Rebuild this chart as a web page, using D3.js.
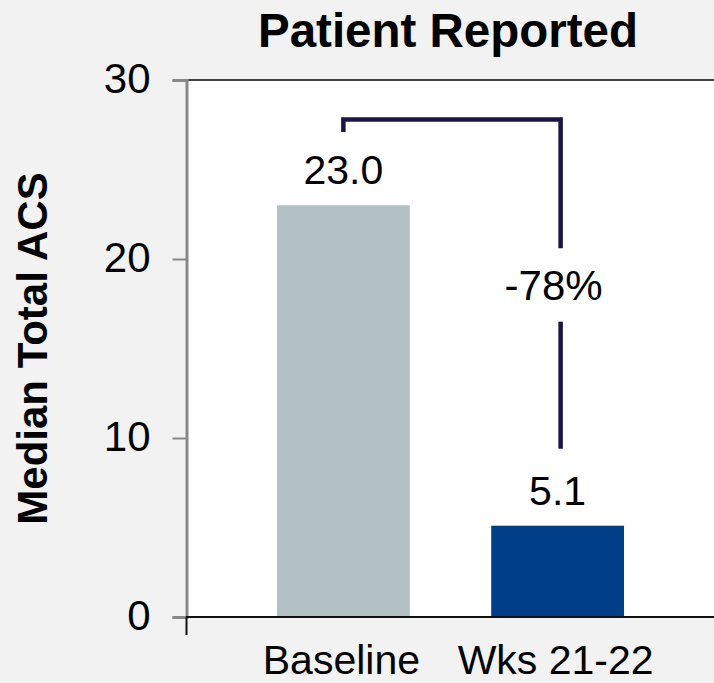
<!DOCTYPE html>
<html>
<head>
<meta charset="utf-8">
<script src="https://cdn.jsdelivr.net/npm/d3@7/dist/d3.min.js"></script>
<style>
  html, body { margin: 0; padding: 0; background: #f2f2f2; }
  svg { display: block; }
  text { font-family: "Liberation Sans", Arial, sans-serif; fill: #000; }
</style>
</head>
<body>
<svg id="chart" width="714" height="683"></svg>
<script>
// Median total ACS score, patient reported
const categories = ["Baseline", "Wks 21-22"];
const values = [23.0, 5.1];
const barColors = ["#b3c0c6", "#003f87"];
const yTicks = [0, 10, 20, 30];
const chartTitle = "Patient Reported";
const yTitle = "Median Total ACS";
// Bracket levels (data units): top rail, left drop, right drop end, label position
const bracketTop = 27.8;
const bracketLeftEnd = 27.1;
const bracketRightEnd = 9.4;
const bracketGapTop = 20.6;
const bracketGapBottom = 16.5;
const bracketLabelAt = 18.0;

const svg = d3.select("#chart");
const W = 714, H = 683;
const m = { left: 187, right: 0, top: 80, bottom: 66 };

const x = d3.scaleBand()
  .domain(categories)
  .range([m.left, W - m.right])
  .paddingInner(0.38)
  .paddingOuter(0.42);

const y = d3.scaleLinear()
  .domain([0, 30])
  .range([H - m.bottom, m.top]);

// plot area
svg.append("rect")
  .attr("x", m.left).attr("y", m.top)
  .attr("width", W - m.right - m.left)
  .attr("height", y(0) - m.top)
  .attr("fill", "#ffffff");

// top frame line
svg.append("line")
  .attr("x1", m.left).attr("x2", W)
  .attr("y1", m.top).attr("y2", m.top)
  .attr("stroke", "#404040").attr("stroke-width", 2);

// bars
svg.append("g").selectAll("rect")
  .data(categories)
  .join("rect")
  .attr("x", d => x(d))
  .attr("width", x.bandwidth())
  .attr("y", (d, i) => y(values[i]))
  .attr("height", (d, i) => y(0) - y(values[i]))
  .attr("fill", (d, i) => barColors[i]);

// y axis
const yAxis = d3.axisLeft(y)
  .tickValues(yTicks)
  .tickSize(14)
  .tickPadding(22)
  .tickFormat(d3.format("d"));
const gy = svg.append("g")
  .attr("transform", `translate(${m.left - 0.5},0)`)
  .call(yAxis);
gy.select(".domain").attr("stroke", "#888").attr("stroke-width", 3);
gy.selectAll(".tick line").attr("stroke", "#888").attr("stroke-width", 2);
gy.selectAll(".tick text")
  .attr("font-size", 42)
  .attr("font-family", "Liberation Sans, Arial, sans-serif")
  .attr("fill", "#000")
  .attr("dy", null)
  .attr("y", 12);

// x axis baseline
svg.append("line")
  .attr("x1", m.left - 1).attr("x2", W)
  .attr("y1", y(0)).attr("y2", y(0))
  .attr("stroke", "#111").attr("stroke-width", 2);
svg.append("line")
  .attr("x1", m.left - 0.5).attr("x2", m.left - 0.5)
  .attr("y1", y(0)).attr("y2", y(0) + 18)
  .attr("stroke", "#111").attr("stroke-width", 2);

// category labels
svg.append("g").selectAll("text")
  .data(categories)
  .join("text")
  .attr("x", d => x(d) + x.bandwidth() / 2 - 2)
  .attr("y", y(0) + 57)
  .attr("text-anchor", "middle")
  .attr("font-size", 41)
  .text(d => d);

// value labels
svg.append("g").selectAll("text")
  .data(categories)
  .join("text")
  .attr("x", d => x(d) + x.bandwidth() / 2)
  .attr("y", (d, i) => y(values[i]) - 21)
  .attr("text-anchor", "middle")
  .attr("font-size", 41)
  .text((d, i) => values[i].toFixed(1));

// change bracket
const xl = x(categories[0]) + x.bandwidth() / 2;
const xr = x(categories[1]) + x.bandwidth() / 2 + 3;
const ink = "#1b1444";
svg.append("path")
  .attr("d", `M${xl},${y(bracketLeftEnd)}V${y(bracketTop)}H${xr}V${y(bracketGapTop)}`)
  .attr("fill", "none").attr("stroke", ink).attr("stroke-width", 4.5)
  .attr("stroke-linejoin", "miter");
svg.append("line")
  .attr("x1", xr).attr("x2", xr)
  .attr("y1", y(bracketGapBottom)).attr("y2", y(bracketRightEnd))
  .attr("stroke", ink).attr("stroke-width", 4.5);
const pct = Math.round((values[1] - values[0]) / values[0] * 100);
svg.append("text")
  .attr("x", xr - 7)
  .attr("y", y(bracketLabelAt) + 5)
  .attr("text-anchor", "middle")
  .attr("font-size", 42)
  .text(`${pct}%`);

// titles
svg.append("text")
  .attr("x", 448).attr("y", 47)
  .attr("text-anchor", "middle")
  .attr("font-size", 47.5)
  .attr("font-weight", "bold")
  .text(chartTitle);

svg.append("text")
  .attr("transform", `translate(47,${(m.top + y(0)) / 2}) rotate(-90)`)
  .attr("text-anchor", "middle")
  .attr("font-size", 42)
  .attr("font-weight", "bold")
  .text(yTitle);
</script>
</body>
</html>
